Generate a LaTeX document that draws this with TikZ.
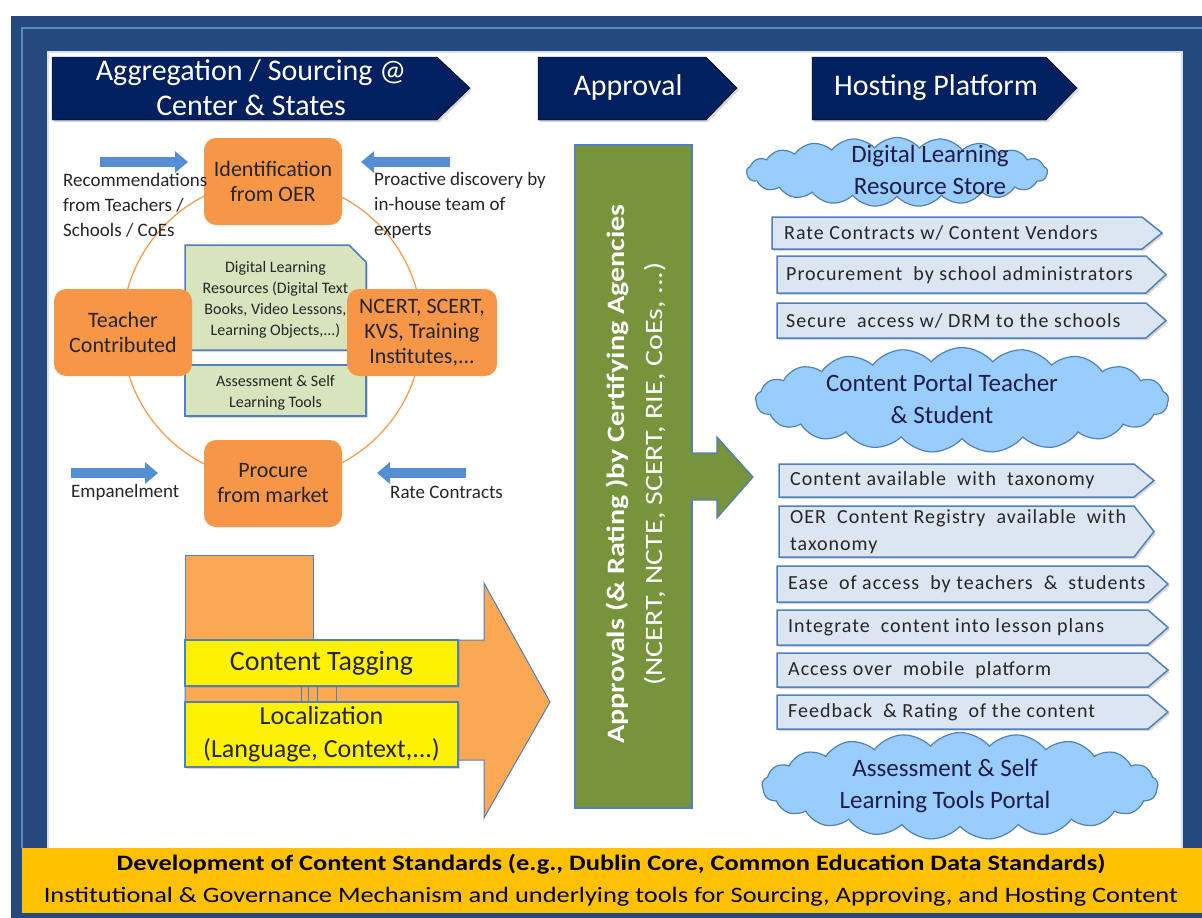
\documentclass[tikz,border=0pt]{standalone}
\usepackage{fontspec}
\setmainfont{Carlito}
\usetikzlibrary{shapes.symbols,arrows.meta,shadows}

\definecolor{framebl}{RGB}{36,73,125}
\definecolor{framelt}{RGB}{95,135,190}
\definecolor{navy}{RGB}{0,32,96}
\definecolor{boxor}{RGB}{247,150,70}
\definecolor{arrowor}{RGB}{250,168,84}
\definecolor{apgreen}{RGB}{119,147,60}
\definecolor{linkbl}{RGB}{85,142,213}
\definecolor{edgebl}{RGB}{79,129,189}
\definecolor{docgr}{RGB}{215,228,189}
\definecolor{tagfill}{RGB}{220,230,242}
\definecolor{cloudbl}{RGB}{153,204,255}
\definecolor{cloudtx}{RGB}{30,30,70}
\definecolor{bandor}{RGB}{255,192,0}

\newcommand{\pxfont}[2]{\fontsize{#1}{#2}\selectfont}
\newcommand{\wide}[1]{\scalebox{1.2}[1]{#1}}

\tikzset{
  softshadow/.style={drop shadow={opacity=0.3,shadow xshift=2pt,shadow yshift=-2pt}},
  header/.style={fill=navy,softshadow},
  headtext/.style={text=white,align=center,font=\pxfont{30}{35}},
  source/.style={fill=boxor,rounded corners=12,minimum width=138,minimum height=87,
    align=center,font=\pxfont{22}{25},text=black!85},
  note/.style={anchor=west,align=left,font=\pxfont{19}{25},text=black!85,inner sep=0},
  feed/.style={draw=linkbl,line width=10,-{Triangle[length=13pt,width=21pt]}},
  docbox/.style={fill=docgr,draw=edgebl,line width=1.5,softshadow},
  doctext/.style={align=center,font=\pxfont{16}{21},text=black!85,inner sep=0},
  stage/.style={fill=arrowor,draw=edgebl,line width=1},
  tagbar/.style={fill=yellow,draw=edgebl,line width=1.2,minimum width=273,align=center,
    inner sep=0,text=black!85,softshadow},
  approve/.style={fill=apgreen,draw=edgebl,line width=1.2},
  store/.style={cloud,cloud puffs=21,cloud puff arc=100,aspect=4,draw=edgebl,fill=cloudbl,line width=1.2},
  storetext/.style={align=center,font=\pxfont{25}{32},text=cloudtx,inner sep=0},
  tagbox/.style={fill=tagfill,draw=edgebl,line width=1.5,softshadow},
  tagtext/.style={anchor=west,align=left,font=\pxfont{20}{27}\addfontfeature{LetterSpace=5},
    text=black!85,inner sep=0},
  bandtext/.style={font=\pxfont{22}{26},text=black}
}

\begin{document}
\begin{tikzpicture}[x=1pt,y=-1pt]
\useasboundingbox (0,0) rectangle (1202,918);
% frame and panel
\fill[framebl] (11,16) rectangle (1202,918);
\draw[framelt,line width=1.5] (22,848) -- (22,28) -- (1202,28);
\fill[white] (48,52) rectangle (1182,848);
\draw[white!75!framelt,line width=2] (48,848) -- (48,52) -- (1182,52) -- (1182,848);
\fill[bandor] (22,848) rectangle (1202,913);

% stage headers
\draw[header] (52,57) -- (437,57) -- (470,88) -- (437,120) -- (52,120) -- cycle;
\draw[header] (538,57) -- (706,57) -- (737,88) -- (706,120) -- (538,120) -- cycle;
\draw[header] (812,57) -- (1046,57) -- (1077,88) -- (1046,120) -- (812,120) -- cycle;
\node[headtext] (hagg) at (251,88) {Aggregation / Sourcing @\\Center \& States};
\node[headtext] (happ) at (628,88) {Approval};
\node[headtext] (hhost) at (936,88) {Hosting Platform};

% sourcing cycle
\draw[boxor,line width=1.2] (272,330) circle [radius=150];
\draw[docbox] (185,245) -- (349,245) -- (366,262) -- (366,350) -- (185,350) -- cycle;
\node[doctext] (dlr) at (275.5,300) {Digital Learning\\Resources (Digital Text\\Books, Video Lessons,\\Learning Objects,...)};
\draw[docbox] (185,365) rectangle (366,416);
\node[doctext] (aslt) at (275.5,393) {Assessment \& Self\\Learning Tools};

\node[source] (oer) at (273,181.5) {Identification\\from OER};
\node[source] (teach) at (123,332.5) {Teacher\\Contributed};
\node[source,minimum width=150] (ncert) at (422,332.5) {NCERT, SCERT,\\KVS, Training\\Institutes,...};
\node[source] (market) at (273,483.5) {Procure\\from market};

\coordinate (rec1) at (100,162);
\coordinate (rec2) at (188,162);
\coordinate (pro1) at (450,162);
\coordinate (pro2) at (361,162);
\coordinate (emp1) at (71,473);
\coordinate (emp2) at (158,473);
\coordinate (rate1) at (466,473);
\coordinate (rate2) at (377,473);
\draw[feed] (rec1) -- (rec2);
\draw[feed] (pro1) -- (pro2);
\draw[feed] (emp1) -- (emp2);
\draw[feed] (rate1) -- (rate2);
\node[note] (lrec) at (63,205) {Recommendations\\from Teachers /\\Schools / CoEs};
\node[note] (lpro) at (374,205) {Proactive discovery by\\in-house team of\\experts};
\node[note] (lemp) at (71,492) {Empanelment};
\node[note] (lrate) at (390,492) {Rate Contracts};

% tagging and localization
\draw[stage] (185,555) rectangle (313,700);
\draw[stage] (185,640) -- (484,640) -- (484,583) -- (550,702) -- (484,818) -- (484,760) -- (185,760) -- cycle;
\foreach \x in {301,308,317,336}
  \draw[edgebl,line width=0.8] (\x,686) -- (\x,702);
\node[tagbar,minimum height=46,font=\pxfont{28}{32}] (ctag) at (321.5,663) {Content Tagging};
\node[tagbar,minimum height=65,font=\pxfont{26}{33}] (loc) at (321.5,734.5) {Localization\\(Language, Context,...)};

% approval
\draw[approve] (575,145) rectangle (692,808);
\fill[apgreen] (690,453) -- (717,453) -- (717,437) -- (753,477) -- (717,518) -- (717,500) -- (690,500) -- cycle;
\draw[edgebl,line width=1.2] (692,453) -- (717,453) -- (717,437) -- (753,477) -- (717,518) -- (717,500) -- (692,500);
\node[rotate=90,align=center,text=white,font=\pxfont{25}{38}] (apv) at (636,474)
  {\wide{\textbf{Approvals (\& Rating )by Certifying Agencies}}\\\wide{(NCERT, NCTE, SCERT, RIE, CoEs, ...)}};

% hosting platform
\node[store,minimum width=301,minimum height=69] (dlrs) at (897,172) {};
\node[storetext] (dlrst) at (930,170) {Digital Learning\\Resource Store};
\node[store,minimum width=413,minimum height=105] (cport) at (962,400) {};
\node[storetext] (cportt) at (942,399) {Content Portal Teacher\\\& Student};
\node[store,minimum width=396,minimum height=107] (aport) at (960,786) {};
\node[storetext] (aportt) at (945,786) {Assessment \& Self\\Learning Tools Portal};

\draw[tagbox] (772,217) -- (1142,217) -- (1162,233) -- (1142,249) -- (772,249) -- cycle;
\node[tagtext] (t1) at (784,233) {Rate Contracts w/ Content Vendors};
\draw[tagbox] (777,256) -- (1146,256) -- (1166,274.5) -- (1146,293) -- (777,293) -- cycle;
\node[tagtext] (t2) at (786,275) {Procurement \ by school administrators};
\draw[tagbox] (777,303) -- (1146,303) -- (1166,320.5) -- (1146,338) -- (777,338) -- cycle;
\node[tagtext] (t3) at (786,320.5) {Secure \ access w/ DRM to the schools};

\draw[tagbox] (779,464) -- (1134,464) -- (1154,480.5) -- (1134,497) -- (779,497) -- cycle;
\node[tagtext] (t4) at (790,480.5) {Content available \ with \ taxonomy};
\draw[tagbox] (779,506) -- (1134,506) -- (1154,531.5) -- (1134,557) -- (779,557) -- cycle;
\node[tagtext] (t5) at (790,532) {OER \ Content Registry \ available \ with\\taxonomy};
\draw[tagbox] (777,566) -- (1148,566) -- (1168,584) -- (1148,602) -- (777,602) -- cycle;
\node[tagtext] (t6) at (788,584) {Ease \ of access \ by teachers \ \& \ students};
\draw[tagbox] (777,610) -- (1148,610) -- (1168,627.5) -- (1148,645) -- (777,645) -- cycle;
\node[tagtext] (t7) at (788,627.5) {Integrate \ content into lesson plans};
\draw[tagbox] (777,653) -- (1148,653) -- (1168,670) -- (1148,687) -- (777,687) -- cycle;
\node[tagtext] (t8) at (788,670) {Access over \ mobile \ platform};
\draw[tagbox] (777,695) -- (1148,695) -- (1168,712) -- (1148,729) -- (777,729) -- cycle;
\node[tagtext] (t9) at (788,712) {Feedback \ \& Rating \ of the content};

% standards band
\node[bandtext,font=\pxfont{22}{26}\bfseries] (std) at (611,864) {\wide{Development of Content Standards (e.g., Dublin Core, Common Education Data Standards)}};
\node[bandtext] (gov) at (611,897) {\wide{Institutional \& Governance Mechanism and underlying tools for Sourcing, Approving, and Hosting Content}};
\end{tikzpicture}
\end{document}
